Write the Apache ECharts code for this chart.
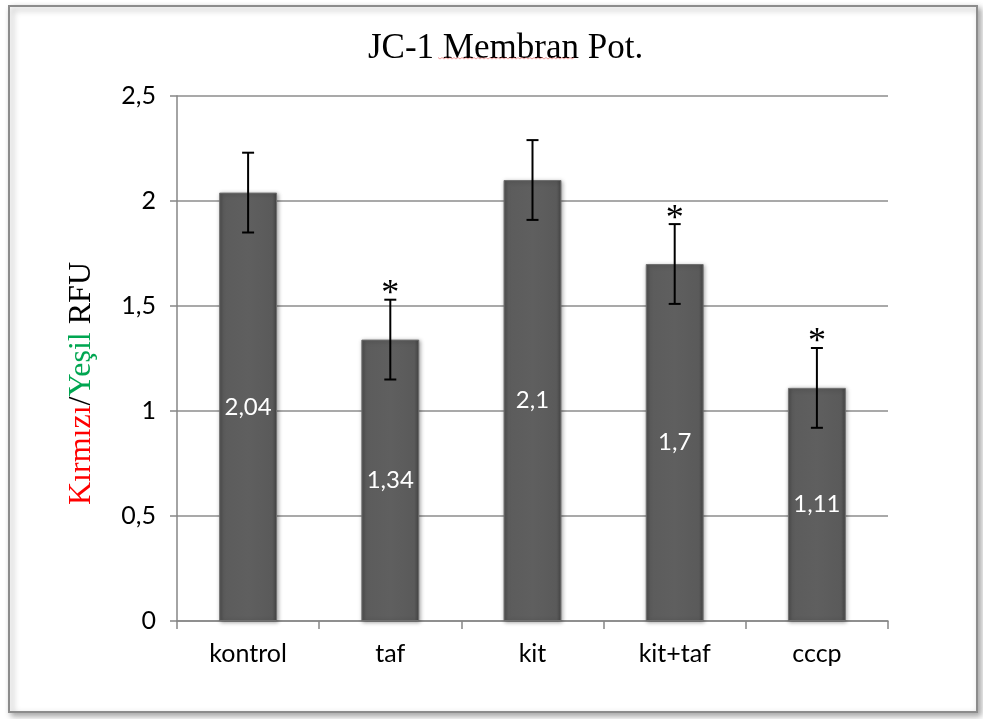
<!DOCTYPE html>
<html>
<head>
<meta charset="utf-8">
<script src="https://cdn.jsdelivr.net/npm/echarts@6/dist/echarts.min.js"></script>
<style>
html,body{margin:0;padding:0;background:#fff;}
#chart{width:983px;height:719px;}
</style>
</head>
<body>
<div id="chart"></div>
<script>
var categories = ['kontrol', 'taf', 'kit', 'kit+taf', 'cccp'];
var values = [2.04, 1.34, 2.1, 1.7, 1.11];
var errors = [0.19, 0.19, 0.19, 0.19, 0.19];
var significant = [false, true, false, true, true];
var valueLabels = ['2,04', '1,34', '2,1', '1,7', '1,11'];

var chart = echarts.init(document.getElementById('chart'));

var errData = categories.map(function (c, i) {
  return [i, values[i] - errors[i], values[i] + errors[i], significant[i] ? 1 : 0];
});

// wavy spell-check underline beneath "Membran"
var wavy = [];
for (var wx = 438, k = 0; wx <= 574; wx += 2, k++) wavy.push([wx, 58 + (k % 2 ? 1 : -0.5)]);

var option = {
  animation: false,
  backgroundColor: '#ffffff',
  graphic: [{
    type: 'rect',
    left: 8, top: 5,
    shape: { width: 968, height: 706 },
    style: { fill: '#fff', stroke: '#8c8c8c', lineWidth: 2, shadowBlur: 6, shadowColor: 'rgba(0,0,0,0.35)', shadowOffsetX: 3, shadowOffsetY: 3 },
    z: -10
  }, {
    type: 'polyline',
    shape: { points: wavy },
    style: { stroke: 'rgba(230,80,80,0.55)', lineWidth: 1, fill: null },
    z: 10
  }],
  title: {
    text: 'JC-1 Membran Pot.',
    left: 363,
    top: 26,
    textStyle: { fontFamily: 'Liberation Serif', fontSize: 35, fontWeight: 'normal', color: '#000' }
  },
  grid: { left: 177, right: 95, top: 96, bottom: 98 },
  xAxis: {
    type: 'category',
    data: categories,
    axisLine: { lineStyle: { color: '#868686', width: 1.5 } },
    axisTick: { show: true, length: 8, lineStyle: { color: '#868686', width: 1.5 } },
    axisLabel: { fontFamily: 'Lato', fontSize: 25, color: '#000', margin: 20 }
  },
  yAxis: {
    type: 'value',
    min: 0, max: 2.5, interval: 0.5,
    name: '{r|Kırmızı}{k|/}{g|Yeşil}{k| RFU}',
    nameLocation: 'middle',
    nameRotate: 90,
    nameGap: 79,
    nameTextStyle: {
      padding: [0, 50, 0, 0],
      rich: {
        r: { fontFamily: 'Liberation Serif', fontSize: 32, color: '#ff0000' },
        g: { fontFamily: 'Liberation Serif', fontSize: 32, color: '#00a651' },
        k: { fontFamily: 'Liberation Serif', fontSize: 32, color: '#000' }
      }
    },
    axisLine: { show: true, lineStyle: { color: '#868686', width: 1.5 } },
    axisTick: { show: true, length: 7, lineStyle: { color: '#868686', width: 1.5 } },
    splitLine: { lineStyle: { color: '#8c8c8c', width: 1.5 } },
    axisLabel: {
      fontFamily: 'Lato', fontSize: 25, color: '#000', margin: 21,
      formatter: function (v) { return String(v).replace('.', ','); }
    }
  },
  series: [{
    type: 'bar',
    data: values,
    barWidth: '40.7%',
    itemStyle: {
      color: {
        type: 'linear', x: 0, y: 0, x2: 1, y2: 0,
        colorStops: [
          { offset: 0, color: '#4e4e4e' },
          { offset: 0.08, color: '#5c5c5c' },
          { offset: 0.5, color: '#5f5f5f' },
          { offset: 0.92, color: '#5a5a5a' },
          { offset: 1, color: '#444' }
        ]
      },
      borderColor: '#707070',
      borderWidth: 1,
      shadowBlur: 4,
      shadowColor: 'rgba(0,0,0,0.35)',
      shadowOffsetX: 1,
      shadowOffsetY: 1
    },
    label: {
      show: true,
      position: 'inside',
      color: '#fff',
      fontFamily: 'Lato',
      fontSize: 24,
      formatter: function (p) { return valueLabels[p.dataIndex]; }
    },
    z: 2
  }, {
    type: 'custom',
    data: errData,
    z: 5,
    renderItem: function (params, api) {
      var lo = api.coord([api.value(0), api.value(1)]);
      var hi = api.coord([api.value(0), api.value(2)]);
      var x = lo[0];
      var cap = 6;
      var style = { stroke: '#000', lineWidth: 2 };
      var children = [
        { type: 'line', shape: { x1: x, y1: hi[1], x2: x, y2: lo[1] }, style: style },
        { type: 'line', shape: { x1: x - cap, y1: hi[1], x2: x + cap, y2: hi[1] }, style: style },
        { type: 'line', shape: { x1: x - cap, y1: lo[1], x2: x + cap, y2: lo[1] }, style: style }
      ];
      if (api.value(3) === 1) {
        children.push({
          type: 'text',
          style: {
            text: '*', x: x, y: hi[1] + 13,
            textAlign: 'center', textVerticalAlign: 'bottom',
            fontFamily: 'Liberation Serif', fontSize: 36, fontWeight: 'normal', fill: '#000'
          }
        });
      }
      return { type: 'group', children: children };
    }
  }]
};
chart.setOption(option);
</script>
</body>
</html>
